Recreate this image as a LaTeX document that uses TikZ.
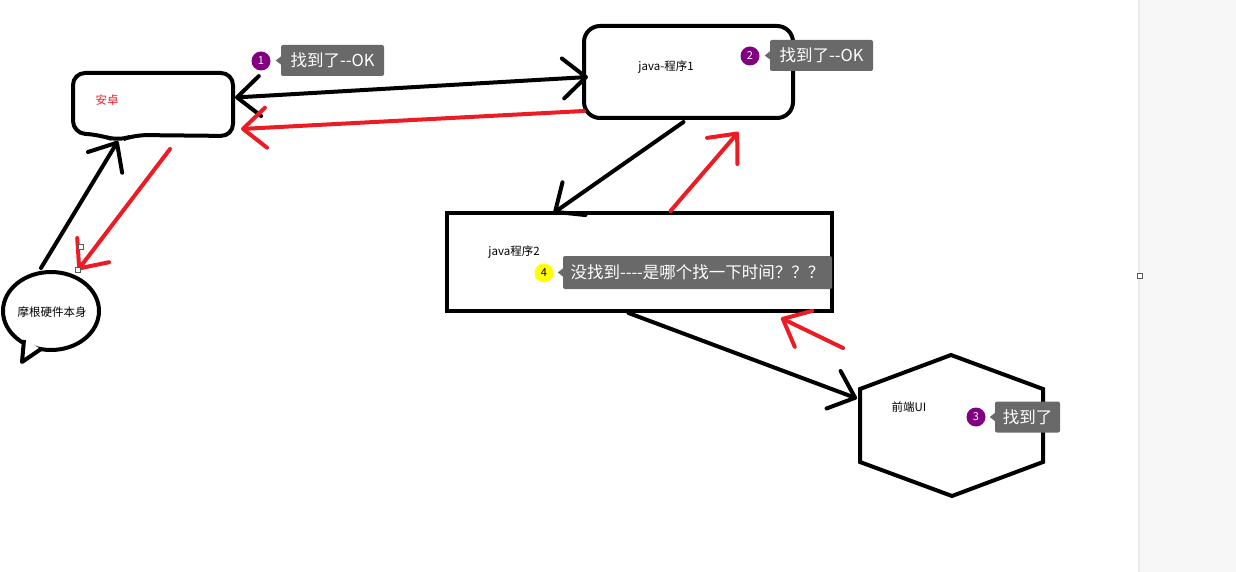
\documentclass[tikz,border=0pt]{standalone}
\usepackage{fontspec}
\setmainfont{Noto Sans CJK SC}
\usetikzlibrary{arrows.meta, positioning, calc, shapes.geometric}
\definecolor{inkred}{HTML}{ED1C24}
\definecolor{notegray}{HTML}{696969}
\definecolor{badgepurple}{HTML}{800080}
\definecolor{badgeyellow}{HTML}{FFFF00}
\definecolor{panelgray}{HTML}{F7F7F7}

\begin{document}
\begin{tikzpicture}[x=1pt, y=-1pt,
    shapeline/.style = {draw=black, line width=4pt, outer sep=0pt, inner sep=0pt},
    holder/.style    = {draw=none, inner sep=0pt, outer sep=0pt},
    lbl/.style       = {font=\fontsize{11.5}{13}\selectfont, inner sep=0pt},
    badge/.style     = {circle, fill=badgepurple, text=white, minimum size=19pt,
                        inner sep=0pt, font=\fontsize{11}{12}\selectfont},
    note/.style      = {fill=notegray, text=white, rounded corners=2pt,
                        minimum height=31pt, inner xsep=0pt,
                        font=\fontsize{16.5}{18}\selectfont},
    blackflow/.style = {-{Straight Barb[length=23pt, width=40pt, round]},
                        line width=4pt, line cap=round},
    redflow/.style   = {blackflow, draw=inkred},
    handle/.style    = {draw=black!65, fill=white, line width=1pt,
                        minimum size=5pt, inner sep=0pt},
]

\useasboundingbox (0,0) rectangle (1236,572);

% --- side panel ---------------------------------------------------------
\fill[panelgray] (1138,0) rectangle (1236,572);
\draw[black!8, line width=2pt] (1139,0) -- (1139,572);

% --- the shapes ---------------------------------------------------------
\node[holder, minimum width=160pt, minimum height=63pt] (android) at (153,104.5) {};
\draw[line width=4pt, rounded corners=12pt]
    (73,73) -- (233,73) -- (233,136) -- (135,135) -- (118,141)
    -- (100,135) -- (73,133) -- cycle;
\coordinate (tail) at (118,141);
\node[lbl, text=inkred] (androidlbl) at (107,100) {安卓};

\node[shapeline, rounded corners=16pt, minimum width=209pt,
      minimum height=92pt] (java1) at (688.5,72) {};
\node[lbl] (java1lbl) at (666,67) {java-程序1};

\node[shapeline, minimum width=385pt, minimum height=98pt] (java2) at (639.5,262) {};
\node[lbl] (java2lbl) at (514,252) {java程序2};

\node[holder, minimum width=183pt, minimum height=141pt] (hex) at (951.5,425.5) {};
\draw[line width=4pt] (951,355) -- (1043,389) -- (1043,462) -- (952,496)
    -- (860,462) -- (860,389) -- cycle;
\node[lbl] (hexlbl) at (909,407) {前端UI};

\node[shapeline, ellipse, minimum width=96pt, minimum height=78pt] (hw) at (51,311) {};
\draw[line width=4pt, fill=white, line join=round] (24,340) -- (22,362) -- (41,349);
\node[lbl] (hwlbl) at (52,312) {摩根硬件本身};

% --- connectors ---------------------------------------------------------
\draw[blackflow, {Straight Barb[length=23pt, width=40pt, round]}-{Straight Barb[length=23pt, width=40pt, round]}]
      ([xshift=4pt, yshift=-5pt]java1.west) -- ([xshift=2pt, yshift=7pt]android.east);
\draw[redflow] ([yshift=-39pt]java1.west) -- ([xshift=8pt, yshift=7pt]android.south east);
\draw[blackflow] ([xshift=-10pt, yshift=4pt]hw.north) -- (tail);
\draw[redflow] ([xshift=17pt, yshift=-13pt]android.south) -- ([xshift=27pt, yshift=2pt]hw.north);
\draw[blackflow] ([xshift=-5pt, yshift=-4pt]java1.south) -- ([xshift=-86pt]java2.north);
\draw[redflow] ([xshift=31pt, yshift=2pt]java2.north) -- ([xshift=50pt, yshift=-14pt]java1.south);
\draw[blackflow] ([xshift=-11pt, yshift=-2pt]java2.south) -- ([xshift=-3pt, yshift=27pt]hex.west);
\draw[redflow] ([xshift=-17pt, yshift=7pt]hex.north west) -- ([xshift=-51pt, yshift=-7pt]java2.south east);

% selection handles
\node[handle] (h1) at (81,247) {};
\node[handle] (h2) at (78,270) {};
\node[handle] (h3) at (1140,276) {};

% --- numbered notes -----------------------------------------------------
\node[badge] (b1) at (261,61) {1};
\node[note, minimum width=103pt] (note1) at (332.5,60.5) {找到了-{}-OK};
\node[badge] (b2) at (750,56) {2};
\node[note, minimum width=103pt] (note2) at (821.5,55.5) {找到了-{}-OK};
\node[badge] (b3) at (976,417) {3};
\node[note, minimum width=65pt] (note3) at (1027.5,417) {找到了};
\node[badge, fill=badgeyellow, text=black] (b4) at (544,273) {4};
\node[note, minimum width=269pt, minimum height=33pt] (note4) at (697.5,272.5)
      {没找到-{}-{}-{}-是哪个找一下时间？？？};
\foreach \n in {note1, note2, note3, note4}
  \fill[notegray] ([yshift=4pt]\n.west) -- ([xshift=-5pt]\n.west) -- ([yshift=-4pt]\n.west) -- cycle;

\end{tikzpicture}
\end{document}
